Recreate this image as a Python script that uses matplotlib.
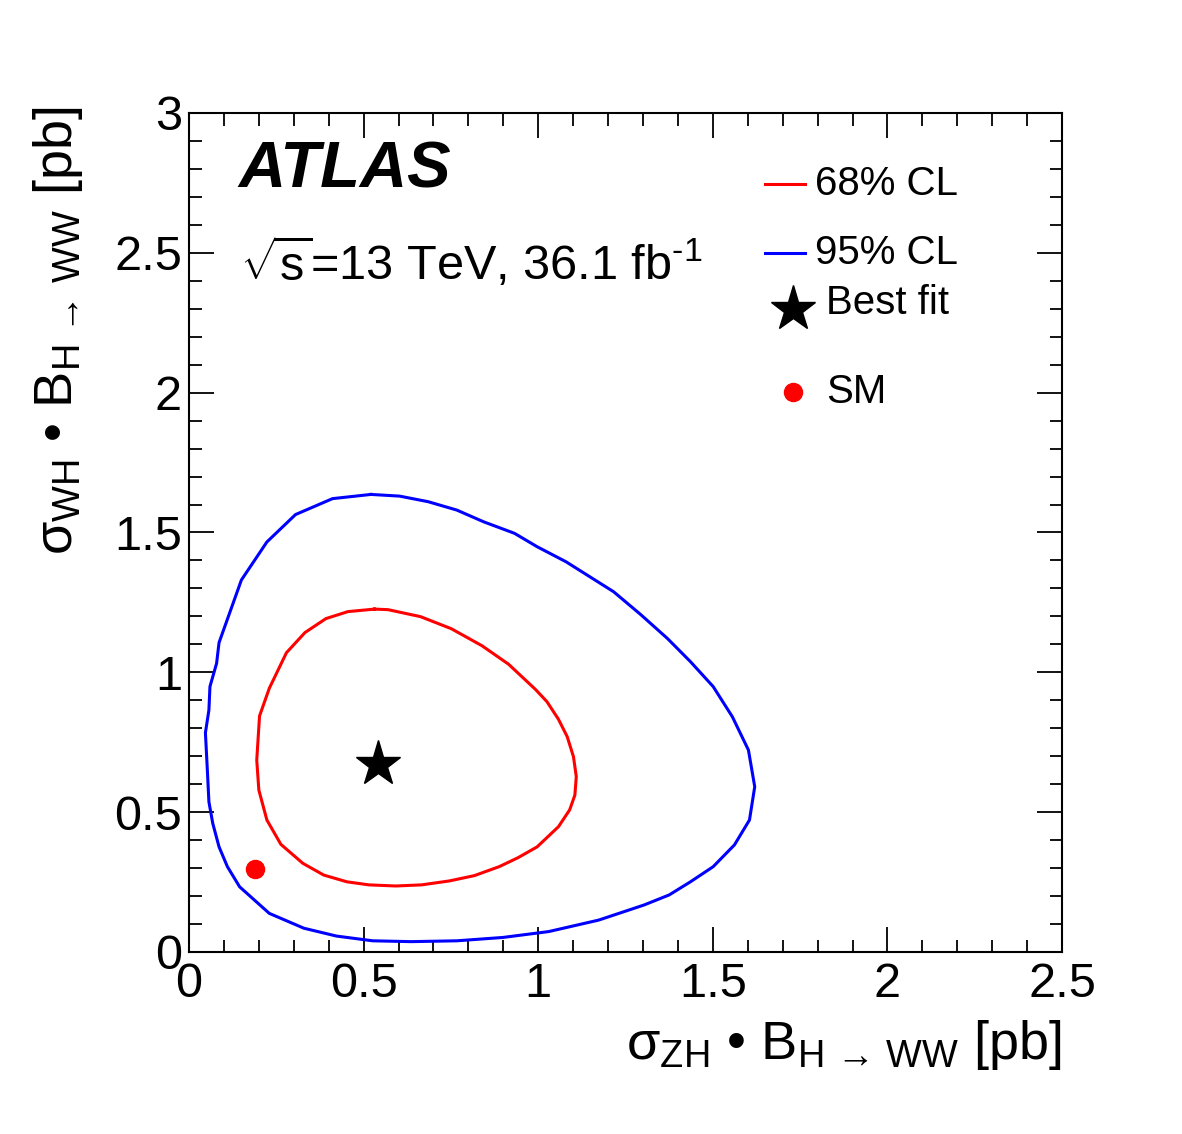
import numpy as np
import matplotlib
matplotlib.use("Agg")
import matplotlib.pyplot as plt
from matplotlib.ticker import MultipleLocator

plt.rcParams['font.family'] = ['Liberation Sans', 'DejaVu Sans']
plt.rcParams['mathtext.fontset'] = 'custom'
plt.rcParams['mathtext.rm'] = 'Liberation Sans'
plt.rcParams['mathtext.it'] = 'Liberation Sans:italic'
plt.rcParams['mathtext.bf'] = 'Liberation Sans:bold'

# 68% CL contour (sigma_ZH*B, sigma_WH*B) in pb
cl68_x = [0.531, 0.455, 0.392, 0.332, 0.279, 0.230, 0.202, 0.194, 0.200, 0.223,
          0.263, 0.326, 0.386, 0.452, 0.515, 0.592, 0.666, 0.745, 0.817, 0.888,
          0.942, 0.997, 1.058, 1.090, 1.105, 1.109, 1.101, 1.083, 1.058, 1.025,
          0.992, 0.915, 0.839, 0.751, 0.663, 0.570, 0.531]
cl68_y = [1.226, 1.217, 1.192, 1.142, 1.070, 0.943, 0.844, 0.686, 0.579, 0.472,
          0.385, 0.317, 0.275, 0.251, 0.240, 0.236, 0.240, 0.254, 0.273, 0.305,
          0.337, 0.376, 0.448, 0.508, 0.561, 0.627, 0.698, 0.770, 0.832, 0.895,
          0.939, 1.029, 1.095, 1.156, 1.199, 1.224, 1.226]

# 95% CL contour
cl95_x = [0.521, 0.411, 0.305, 0.223, 0.150, 0.086, 0.079, 0.060, 0.057, 0.047,
          0.053, 0.057, 0.068, 0.086, 0.110, 0.145, 0.230, 0.329, 0.422, 0.526,
          0.636, 0.767, 0.899, 1.030, 1.173, 1.303, 1.375, 1.436, 1.501, 1.562,
          1.605, 1.620, 1.602, 1.556, 1.501, 1.436, 1.370, 1.293, 1.216, 1.080,
          0.997, 0.932, 0.844, 0.767, 0.685, 0.603, 0.521]
cl95_y = [1.636, 1.621, 1.564, 1.466, 1.330, 1.106, 1.032, 0.949, 0.865, 0.784,
          0.639, 0.537, 0.460, 0.376, 0.305, 0.233, 0.138, 0.085, 0.057, 0.040,
          0.037, 0.040, 0.052, 0.073, 0.114, 0.168, 0.204, 0.251, 0.305, 0.383,
          0.472, 0.591, 0.722, 0.841, 0.949, 1.038, 1.121, 1.207, 1.288, 1.395,
          1.449, 1.497, 1.538, 1.580, 1.610, 1.630, 1.636]

best_fit = (0.541, 0.672)
sm_point = (0.189, 0.297)

fig = plt.figure(figsize=(11.82, 11.34), dpi=100)
ax = fig.add_axes([0.1599, 0.1605, 0.8985 - 0.1599, 0.9004 - 0.1605])

ax.plot(cl95_x, cl95_y, color='#0000ff', lw=2.2)
ax.plot(cl68_x, cl68_y, color='#ff0000', lw=2.2)
ax.plot(*best_fit, marker='*', color='black', ms=34, ls='none')
ax.plot(*sm_point, marker='o', color='#ff0000', ms=13, ls='none')

ax.set_xlim(0, 2.5)
ax.set_ylim(0, 3)
ax.xaxis.set_major_locator(MultipleLocator(0.5))
ax.xaxis.set_minor_locator(MultipleLocator(0.1))
ax.yaxis.set_major_locator(MultipleLocator(0.5))
ax.yaxis.set_minor_locator(MultipleLocator(0.1))
ax.xaxis.set_major_formatter(plt.FuncFormatter(lambda v, p: f'{v:g}'))
ax.yaxis.set_major_formatter(plt.FuncFormatter(lambda v, p: f'{v:g}'))
ax.tick_params(which='both', direction='in', top=True, right=True, width=1.3)
ax.tick_params(which='major', length=18)
ax.tick_params(which='minor', length=9)
ax.tick_params(axis='x', which='major', labelsize=35, pad=7)
ax.tick_params(axis='y', which='major', labelsize=35, pad=5)
for s in ax.spines.values():
    s.set_linewidth(1.5)

# labels
ax.text(0.056, 0.932, 'ATLAS', transform=ax.transAxes, fontsize=47,
        fontweight='bold', fontstyle='italic', va='center', ha='left')
ax.text(0.058, 0.822, r'$\mathregular{\sqrt{s}}$=13 TeV, 36.1 fb$\mathregular{^{‐1}}$',
        transform=ax.transAxes, fontsize=35, va='center', ha='left')

# legend
ax.plot([0.660, 0.706], [0.915, 0.915], color='#ff0000', lw=2.2, transform=ax.transAxes)
ax.text(0.717, 0.915, '68% CL', transform=ax.transAxes, fontsize=29, va='center')
ax.plot([0.660, 0.706], [0.833, 0.833], color='#0000ff', lw=2.2, transform=ax.transAxes)
ax.text(0.717, 0.833, '95% CL', transform=ax.transAxes, fontsize=29, va='center')
ax.plot(0.692, 0.766, marker='*', color='black', ms=34, transform=ax.transAxes)
ax.text(0.730, 0.773, 'Best fit', transform=ax.transAxes, fontsize=29, va='center')
ax.plot(0.692, 0.667, marker='o', color='#ff0000', ms=13, transform=ax.transAxes)
ax.text(0.730, 0.667, 'SM', transform=ax.transAxes, fontsize=29, va='center')

fig.text(1062 / 1182, 1 - 1018 / 1134,
         r'$\mathregular{σ_{ZH}\ •\ B_{H\,\rightarrow\,WW}}$ [pb]',
         fontsize=39, ha='right', va='top')
fig.text(58 / 1182, 1 - 106 / 1134,
         r'$\mathregular{σ_{WH}\ •\ B_{H\,\rightarrow\,WW}}$ [pb]',
         fontsize=39, ha='center', va='top', rotation=90)

fig.savefig('out.png', dpi=100)
